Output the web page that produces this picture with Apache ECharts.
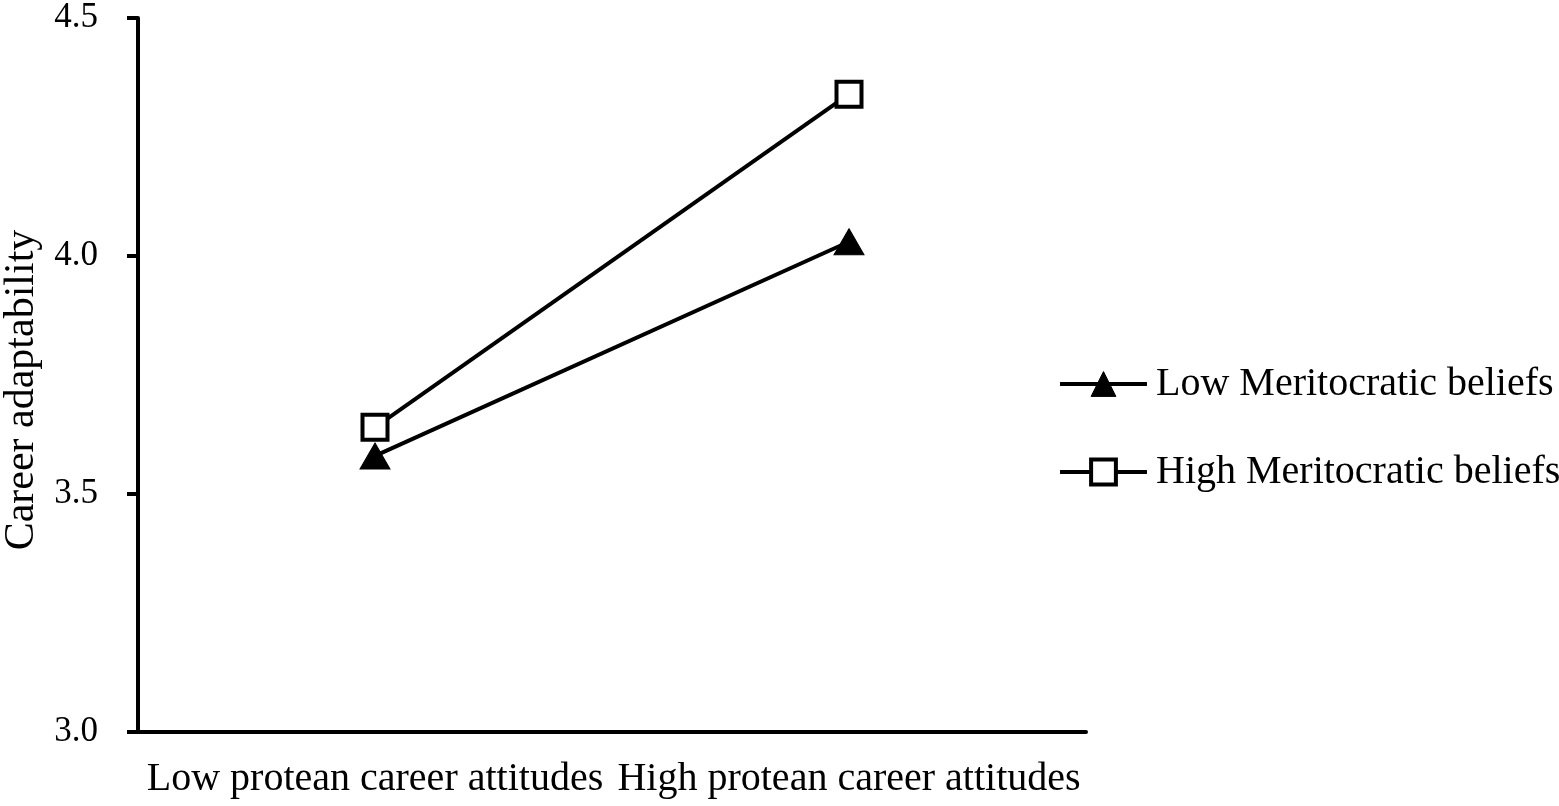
<!DOCTYPE html>
<html>
<head>
<meta charset="utf-8">
<script src="https://cdn.jsdelivr.net/npm/echarts@6/dist/echarts.min.js"></script>
<style>html,body{margin:0;padding:0;background:#fff;}#c{width:1559px;height:806px;}</style>
</head>
<body>
<div id="c"></div>
<script>
const categories = ['Low protean career attitudes', 'High protean career attitudes'];
const lowMeritocratic = [3.58, 4.03];
const highMeritocratic = [3.64, 4.34];
const yTicks = [3.0, 3.5, 4.0, 4.5];
const legendNames = ['Low Meritocratic beliefs', 'High Meritocratic beliefs'];

const FONT = '"Liberation Serif", "Times New Roman", serif';
const chart = echarts.init(document.getElementById('c'));
chart.setOption({
  backgroundColor: '#fff',
  animation: false,
  grid: { left: 138, right: 473, top: 18, bottom: 74, outerBoundsMode: 'none', containLabel: false },
  xAxis: {
    type: 'category',
    data: categories,
    boundaryGap: true,
    axisLine: { lineStyle: { color: '#000', width: 4 } },
    axisTick: { show: false },
    axisLabel: { color: '#000', fontFamily: FONT, fontSize: 40, margin: 27, interval: 0, hideOverlap: false }
  },
  yAxis: {
    type: 'value',
    min: 3.0, max: 4.5, interval: 0.5,
    name: 'Career adaptability',
    nameLocation: 'middle',
    nameGap: 92,
    nameTextStyle: { color: '#000', fontFamily: FONT, fontSize: 42, padding: [0, 30, 0, 0] },
    axisLine: { show: true, lineStyle: { color: '#000', width: 4 } },
    axisTick: { show: true, length: 11, lineStyle: { color: '#000', width: 4 } },
    splitLine: { show: false },
    axisLabel: { color: '#000', fontFamily: FONT, fontSize: 35, margin: 40,
      formatter: v => yTicks.includes(v) ? v.toFixed(1) : '' }
  },
  legend: {
    orient: 'vertical',
    left: 1058, top: 364, padding: 0,
    itemWidth: 87, itemHeight: 31, itemGap: 48,
    textStyle: { color: '#000', fontFamily: FONT, fontSize: 40, padding: [0, 0, 0, 4] },
    data: [
      { name: legendNames[0], lineStyle: { width: 4 }, itemStyle: { borderWidth: 1 } },
      { name: legendNames[1], lineStyle: { width: 4 }, itemStyle: { borderWidth: 4 } }
    ]
  },
  series: [
    {
      name: legendNames[0], type: 'line', data: lowMeritocratic,
      symbol: 'triangle', symbolSize: [30, 26],
      lineStyle: { color: '#000', width: 4 },
      itemStyle: { color: '#000', borderColor: '#000', borderWidth: 1 }
    },
    {
      name: legendNames[1], type: 'line', data: highMeritocratic,
      symbol: 'rect', symbolSize: 25,
      lineStyle: { color: '#000', width: 4 },
      itemStyle: { color: '#fff', borderColor: '#000', borderWidth: 4 }
    }
  ]
});
</script>
</body>
</html>
